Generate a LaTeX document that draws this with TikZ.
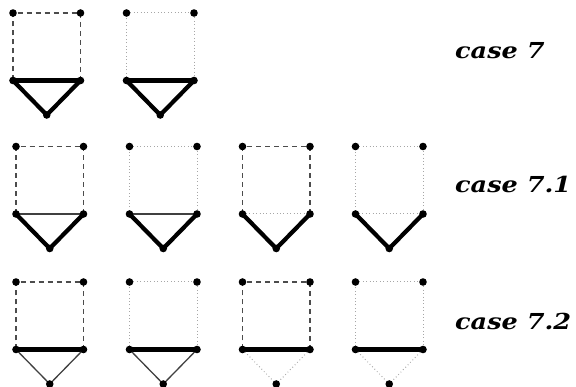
\documentclass[tikz,border=0pt]{standalone}
\usepackage{fontspec}
\newfontfamily\casefont{DejaVu Serif}[FakeStretch=1.16]
\usepackage{tikz}
\usetikzlibrary{positioning,calc}

\tikzset{
  sqdash/.style={dash pattern=on 5pt off 4pt,line width=1.2pt,black!70},
  sqdot/.style={dash pattern=on 0.8pt off 2.6pt,line width=1pt,black!35},
  thickedge/.style={line width=4.2pt,black,line cap=round,line join=round},
  thinedge/.style={line width=1.3pt,black!75},
  caselabel/.style={anchor=base west,inner sep=0pt,font=\casefont\bfseries\itshape\fontsize{22}{26}\selectfont}
}

% #1 name, #2 x, #3 y (top left), #4 square, #5 middle, #6 triangle
\newcommand{\housegraph}[6]{%
  \coordinate (#1a) at (#2,#3);
  \coordinate (#1b) at ($(#1a)+(67.5,0)$);
  \coordinate (#1c) at ($(#1a)+(0,67.5)$);
  \coordinate (#1d) at ($(#1a)+(67.5,67.5)$);
  \coordinate (#1e) at ($(#1a)+(33.75,102)$);
  \draw[#4] (#1c) -- (#1a) -- (#1b) -- (#1d);
  \draw[#5] (#1c) -- (#1d);
  \draw[#6] (#1c) -- (#1e) -- (#1d);
  \foreach \v in {a,b,c,d,e} \fill (#1\v) circle (3.8pt);
}

\begin{document}
\begin{tikzpicture}[x=1pt,y=-1pt]
  \useasboundingbox (0,0) rectangle (576,387);

  % case 7
  \housegraph{p}{13}{13}{sqdash}{thickedge}{thickedge}
  \housegraph{q}{126.5}{13}{sqdot}{thickedge}{thickedge}
  \node[caselabel] (c7) at (455,59) {case 7};

  % case 7.1
  \housegraph{r}{16}{146.5}{sqdash}{thinedge}{thickedge}
  \housegraph{s}{129.5}{146.5}{sqdot}{thinedge}{thickedge}
  \housegraph{t}{242.5}{146.5}{sqdash}{sqdot}{thickedge}
  \housegraph{u}{355.5}{146.5}{sqdot}{sqdot}{thickedge}
  \node[caselabel] (c71) at (455,193) {case 7.1};

  % case 7.2
  \housegraph{v}{16}{282}{sqdash}{thickedge}{thinedge}
  \housegraph{w}{129.5}{282}{sqdot}{thickedge}{thinedge}
  \housegraph{x}{242.5}{282}{sqdash}{thickedge}{sqdot}
  \housegraph{y}{355.5}{282}{sqdot}{thickedge}{sqdot}
  \node[caselabel] (c72) at (455,330) {case 7.2};
\end{tikzpicture}
\end{document}
